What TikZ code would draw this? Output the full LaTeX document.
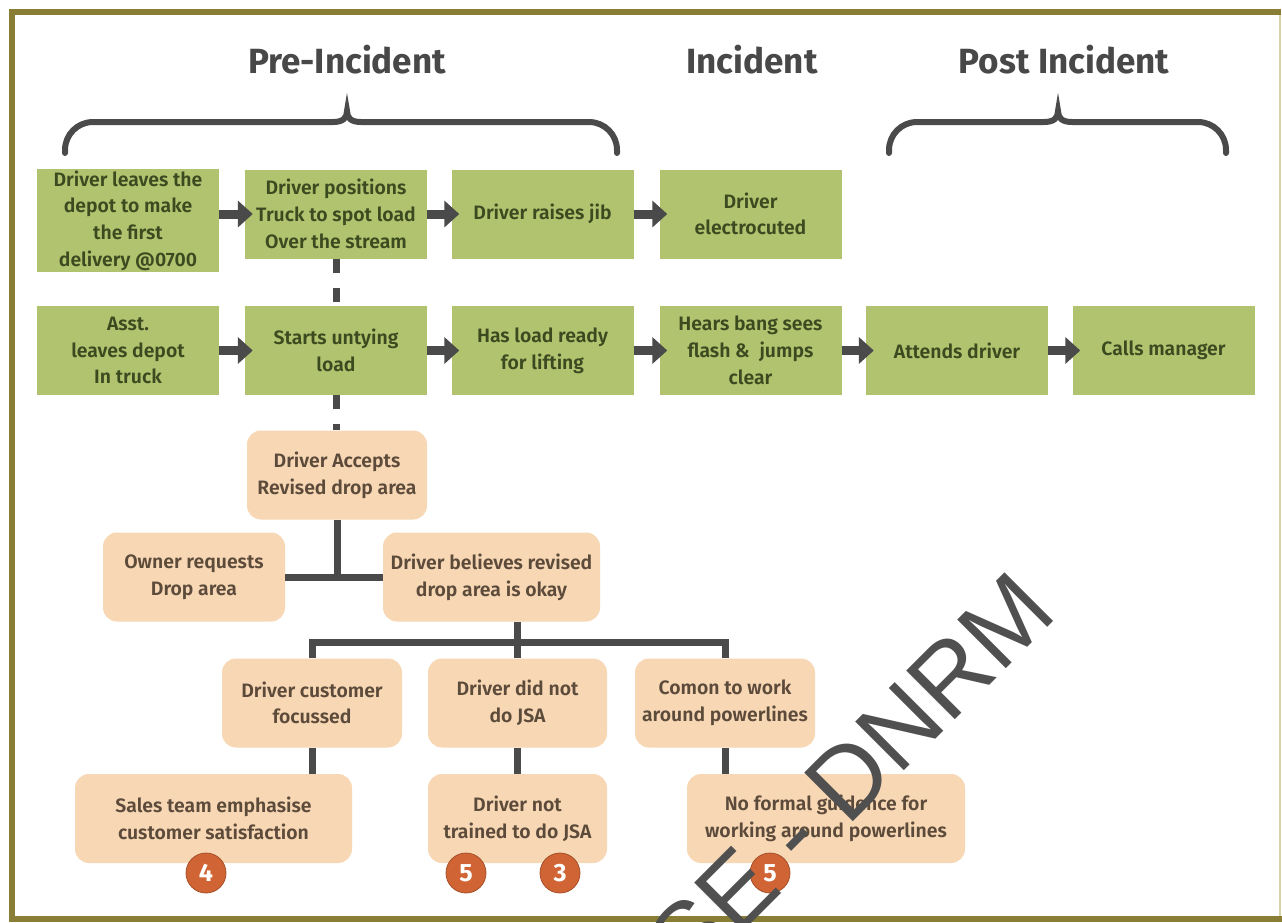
\documentclass[tikz,border=0pt]{standalone}
\usepackage{fontspec}
\setmainfont{Fira Sans}
\IfFontExistsTF{Fira Sans SemiBold}
  {\newfontfamily\boxfont{Fira Sans SemiBold}}
  {\IfFontExistsTF{Fira Sans Medium}
    {\newfontfamily\boxfont{Fira Sans Medium}}
    {\newfontfamily\boxfont{Fira Sans Bold}}}
\newfontfamily\wmfont{Liberation Sans}
\usetikzlibrary{arrows.meta}

\definecolor{boxgreen}{RGB}{178,195,112}
\definecolor{greentext}{RGB}{60,74,32}
\definecolor{peach}{RGB}{247,215,180}
\definecolor{peachtext}{RGB}{92,74,58}
\definecolor{linegray}{RGB}{74,74,74}
\definecolor{headgray}{RGB}{72,72,72}
\definecolor{badge}{RGB}{208,100,52}
\definecolor{frameolive}{RGB}{138,125,53}
\definecolor{framepale}{RGB}{217,210,166}
\definecolor{wmgray}{RGB}{80,80,80}

\newcommand\boxtext{\boxfont\fontsize{19.4}{26.7}\selectfont}

\begin{document}
\begin{tikzpicture}[x=1pt,y=-1pt,
  gbox/.style={fill=boxgreen, text=greentext, minimum width=182pt,
    minimum height=89pt, inner sep=0pt, align=center, font=\boxtext},
  pbox/.style={fill=peach, text=peachtext, rounded corners=14pt,
    minimum height=89pt, inner sep=0pt, align=center, font=\boxtext},
  head/.style={text=headgray, font=\bfseries\fontsize{35}{40}\selectfont},
  arr/.style={draw=linegray, line width=9pt,
    -{Triangle[length=15pt,width=26pt]}, shorten >=-8pt},
  dashlink/.style={draw=linegray, line width=7pt, dash pattern=on 14pt off 15pt},
  tree/.style={draw=linegray, line width=7pt},
  brace/.style={draw=linegray, line width=6pt, line cap=round},
  badgenode/.style={circle, fill=badge, draw=badge!80!black, line width=0.8pt,
    minimum size=40pt, inner sep=0pt, text=white,
    font=\bfseries\fontsize{25}{25}\selectfont}
]
\useasboundingbox (0,0) rectangle (1282,922);
\fill[white] (0,0) rectangle (1282,922);

% frame
\draw[framepale, line width=2pt] (1279.5,11.5) -- (1279.5,919);
\draw[frameolive, line width=6pt] (1281,11.5) -- (11.5,11.5) -- (11.5,919) -- (1282,919);

% phase headings
\node[head] (hpre) at (347,60) {Pre-Incident};
\node[head] (hinc) at (752,60) {Incident};
\node[head] (hpost) at (1064,60) {Post Incident};

% braces
\draw[brace] (65,153) -- (65,150) arc[start angle=180, end angle=90, radius=28pt]
  -- (333,122) .. controls (343,122) and (347,118) .. (347,111)
  .. controls (347,118) and (351,122) .. (361,122)
  -- (589,122) arc[start angle=90, end angle=0, radius=28pt] -- (617,153);
\draw[brace] (889,153) -- (889,150) arc[start angle=180, end angle=90, radius=28pt]
  -- (1044,122) .. controls (1054,122) and (1058,118) .. (1058,111)
  .. controls (1058,118) and (1062,122) .. (1072,122)
  -- (1198,122) arc[start angle=90, end angle=0, radius=28pt] -- (1226,153);

% driver's sequence
\node[gbox, minimum height=103pt] (g1) at (128,220.5)
  {Driver leaves the\\depot to make\\the first\\delivery @0700};
\node[gbox] (g2) at (336,214) {Driver positions\\Truck to spot load\\Over the stream};
\node[gbox] (g3) at (542.5,214) {Driver raises jib};
\node[gbox] (g4) at (750.5,214) {Driver\\electrocuted};

% assistant's sequence
\node[gbox] (a1) at (128,350.5) {Asst.\\leaves depot\\In truck};
\node[gbox] (a2) at (336,350.5) {Starts untying\\load};
\node[gbox] (a3) at (542.5,350.5) {Has load ready\\for lifting};
\node[gbox] (a4) at (750.5,350.5) {Hears bang sees\\flash \&\enspace jumps\\clear};
\node[gbox] (a5) at (957,350.5) {Attends driver};
\node[gbox] (a6) at (1163.5,350.5) {Calls manager};

% causal tree
\node[pbox, minimum width=180pt] (acc) at (337,475) {Driver Accepts\\Revised drop area};
\node[pbox, minimum width=182pt] (own) at (194,577) {Owner requests\\Drop area};
\node[pbox, minimum width=217pt] (bel) at (491.5,577) {Driver believes revised\\drop area is okay};
\node[pbox, minimum width=180pt] (cf) at (312,703) {Driver customer\\focussed};
\node[pbox, minimum width=179pt] (dnd) at (517.5,703) {Driver did not\\do JSA};
\node[pbox, minimum width=180pt] (cw) at (725,703) {Comon to work\\around powerlines};
\node[pbox, minimum width=277pt] (st) at (213.5,818.5) {Sales team emphasise\\customer satisfaction};
\node[pbox, minimum width=179pt] (dnt) at (517.5,818.5) {Driver not\\trained to do JSA};
\node[pbox, minimum width=278pt] (nf) at (826,818.5) {No formal guidence for\\working around powerlines};

% sequence arrows
\draw[arr] (g1.east |- g2.west) -- (g2.west);
\draw[arr] (g2) -- (g3);
\draw[arr] (g3) -- (g4);
\draw[arr] (a1) -- (a2);
\draw[arr] (a2) -- (a3);
\draw[arr] (a3) -- (a4);
\draw[arr] (a4) -- (a5);
\draw[arr] (a5) -- (a6);

% dashed links
\draw[dashlink] (g2.south) -- (a2.north);
\draw[dashlink] (a2.south) -- (a2.south |- acc.north);

% tree links
\coordinate (bar) at (517.5,642);
\draw[tree] (acc.south) -- (acc.south |- own.east);
\draw[tree] (own.east) -- (bel.west);
\draw[tree] (bel.south -| dnd.north) -- (dnd.north);
\draw[tree] (cf.north) |- (bar) -| (cw.north);
\draw[tree] (cf.south) -- (cf.south |- st.north);
\draw[tree] (dnd.south) -- (dnt.north);
\draw[tree] (cw.south) -- (cw.south |- nf.north);

% badges
\node[badgenode] (b4) at (206,873) {4};
\node[badgenode] (b5) at (466,873) {5};
\node[badgenode] (b3) at (560,873) {3};
\node[badgenode] (b5b) at (770,873) {5};

% watermark
\begin{scope}
\clip (0,0) rectangle (1282,922);
\node[rotate=45, anchor=base west, inner sep=0pt, text=wmgray,
  font=\wmfont\fontsize{100}{100}\selectfont] (wm) at (690,985) {SE - DNRM};
\end{scope}
\end{tikzpicture}
\end{document}
